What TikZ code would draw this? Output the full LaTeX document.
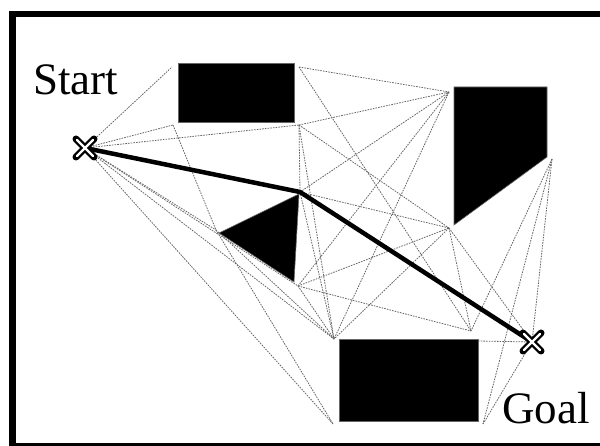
\documentclass[tikz,border=0pt]{standalone}
\usepackage{fontspec}
\setmainfont{Liberation Serif}
\begin{document}
\begin{tikzpicture}[x=1pt,y=-1pt,
  vis/.style={draw=black!60, line width=0.8pt, dash pattern=on 1.6pt off 1.1pt},
  obst/.style={fill=black, draw=black!60, line width=0.6pt},
  route/.style={draw=black, line width=4.5pt, line join=round},
  lbl/.style={font=\fontsize{45}{45}\selectfont, inner sep=0pt, anchor=base west},
  frameline/.style={draw=black, line width=6.5pt},
  xout/.style={draw=black, line width=7pt, line cap=round},
  xin/.style={draw=white, line width=2.4pt, line cap=round}]
\useasboundingbox (0,0) rectangle (600,446);
\begin{scope}
  \clip (0,0) rectangle (600,446);
  \draw[frameline] (12.5,14) rectangle (606,446);
\end{scope}
% visibility-graph vertices
\coordinate (S) at (85,148);
\coordinate (G) at (532,342);
\coordinate (A) at (172,67);
\coordinate (B) at (299,67);
\coordinate (C) at (173,125);
\coordinate (D) at (299,125);
\coordinate (P1) at (449,92);
\coordinate (P2) at (552,159);
\coordinate (P3) at (449,228);
\coordinate (T1) at (216,230);
\coordinate (T2) at (300,192);
\coordinate (T3) at (298,286);
\coordinate (R1) at (334,339);
\coordinate (R2) at (471,331);
\coordinate (R5) at (478,341);
\coordinate (R3) at (333,424);
\coordinate (R4) at (483,424);
% dashed visibility edges
\foreach \a/\b in {S/A,S/C,S/D,S/T1,S/T3,S/R1,S/R3,C/T1,B/P1,B/R2,D/P1,D/P3,D/T2,D/R1,
  T1/R3,T1/R1,T2/P1,T2/P3,T2/R1,T3/P1,T3/P3,T3/R1,T3/R2,P1/R1,P3/R1,P3/R2,P3/G,
  P2/R2,P2/R4,P2/G,R5/G,R4/G}
  \draw[vis] (\a) -- (\b);
% obstacles
\draw[obst] (178,63) rectangle (294,122);
\draw[obst] (454,87) -- (547,87) -- (547,157) -- (454,225) -- cycle;
\draw[obst] (219,233) -- (299,194) -- (294,282) -- cycle;
\draw[obst] (339,339) rectangle (478,421);
% shortest path
\draw[route] (S) -- (T2) -- (G);
% start / goal markers
\foreach \p in {S,G} {
  \draw[xout] (\p) ++(-9,-9) -- ++(18,18) (\p) ++(-9,9) -- ++(18,-18);
  \draw[xin] (\p) ++(-8,-8) -- ++(16,16) (\p) ++(-8,8) -- ++(16,-16);
}
\node[lbl] (start) at (33,95) {Start};
\node[lbl] (goal) at (502,424) {Goal};
\end{tikzpicture}
\end{document}
